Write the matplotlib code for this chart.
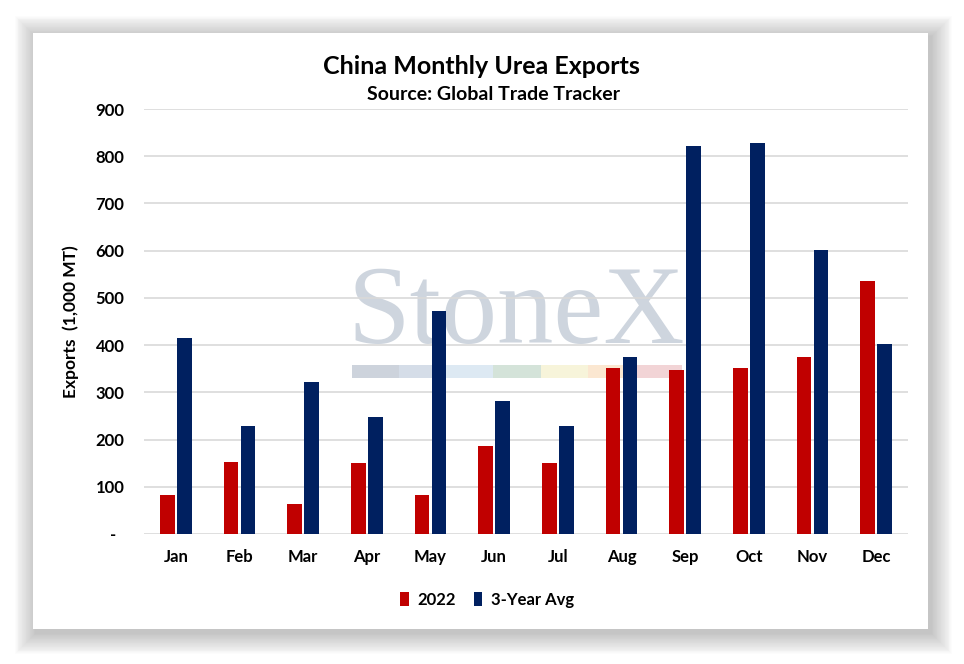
import numpy as np
import matplotlib
matplotlib.use('Agg')
import matplotlib.pyplot as plt
from matplotlib.patches import Rectangle

# 数据
months = ['Jan', 'Feb', 'Mar', 'Apr', 'May', 'Jun', 'Jul', 'Aug', 'Sep', 'Oct', 'Nov', 'Dec']
exports_2022 = [83, 153, 63, 150, 83, 186, 150, 351, 348, 351, 374, 535]
avg_3yr = [416, 228, 321, 248, 473, 281, 228, 374, 822, 829, 601, 403]
y_ticks = [0, 100, 200, 300, 400, 500, 600, 700, 800, 900]
y_tick_labels = ['-  ', '100', '200', '300', '400', '500', '600', '700', '800', '900']
stripe_colors = ['#cdd3dc', '#d5dde8', '#dde9f3', '#d4e3d9', '#f7f4da', '#fbe7d1', '#f2d4d6']

RED = '#C00000'
NAVY = '#002060'
FONT = ['Lato', 'DejaVu Sans']

plt.rcParams['font.family'] = FONT

W, H = 964, 664
fig = plt.figure(figsize=(W / 100, H / 100), dpi=100)
fig.patch.set_facecolor('white')


def px(x0, y0, x1, y1):
    # 像素坐标 -> figure 坐标
    return [x0 / W, 1 - y1 / H, (x1 - x0) / W, (y1 - y0) / H]


# 卡片阴影（多层叠加模拟模糊）
bg = fig.add_axes([0, 0, 1, 1])
bg.set_xlim(0, W)
bg.set_ylim(H, 0)
bg.axis('off')
for k in range(26, 0, -1):
    grow = k * 0.8
    bg.add_patch(Rectangle((33 - grow + 3, 33 - grow + 4), 895 + 2 * grow, 596 + 2 * grow,
                           facecolor='#707070', edgecolor='none', alpha=0.017))
bg.add_patch(Rectangle((33, 33), 895, 596, facecolor='white', edgecolor='none'))

# 水印
bg.text(516, 343, 'StoneX', family='Liberation Serif', fontsize=81, color='#ced5de',
        ha='center', va='baseline', zorder=1)
seg_w = (682 - 352) / len(stripe_colors)
for i, c in enumerate(stripe_colors):
    bg.add_patch(Rectangle((352 + i * seg_w, 365), seg_w, 13, facecolor=c, edgecolor='none', zorder=1))

# 主图
ax = fig.add_axes(px(144, 109, 908, 534))
ax.patch.set_alpha(0)
x = np.arange(len(months))
bw = 0.23
ax.bar(x - 0.135, exports_2022, bw, color=RED, label='2022', zorder=3)
ax.bar(x + 0.135, avg_3yr, bw, color=NAVY, label='3-Year Avg', zorder=3)

ax.set_xlim(-0.5, len(months) - 0.5)
ax.set_ylim(0, 900)
ax.set_yticks(y_ticks)
ax.set_yticklabels(y_tick_labels)
ax.set_xticks(x)
ax.set_xticklabels(months)
ax.yaxis.grid(True, color='#d9d9d9', lw=1.2, zorder=0)
ax.set_axisbelow(True)
for s in ax.spines.values():
    s.set_visible(False)
ax.tick_params(axis='both', length=0, labelsize=12, colors='black')
ax.tick_params(axis='y', pad=14)
ax.tick_params(axis='x', pad=11)
for lbl in ax.get_xticklabels() + ax.get_yticklabels():
    lbl.set_fontweight('bold')

ax.set_ylabel('Exports  (1,000 MT)', fontsize=12.5, fontweight='bold', labelpad=12)

# 标题
fig.text(481 / W, 1 - 67 / H, 'China Monthly Urea Exports', ha='center', va='center',
         fontsize=18, fontweight='bold')
fig.text(494 / W, 1 - 95 / H, 'Source: Global Trade Tracker', ha='center', va='center',
         fontsize=14, fontweight='bold')

# 图例
leg = ax.legend(loc='center', bbox_to_anchor=(487 / W, 1 - 600 / H), bbox_transform=fig.transFigure,
                ncol=2, frameon=False, fontsize=12, handlelength=0.5, handleheight=0.9,
                handletextpad=0.5, columnspacing=1.1)
for t in leg.get_texts():
    t.set_fontweight('bold')

plt.savefig('out.png', dpi=100, facecolor='white')
